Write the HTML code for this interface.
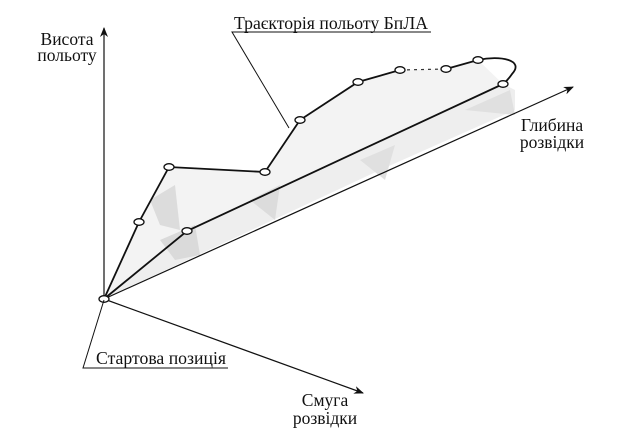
<!DOCTYPE html>
<html><head><meta charset="utf-8"><style>
html,body{margin:0;padding:0;background:#fff;}
svg{display:block;}
text{font-family:"Liberation Serif",serif;font-size:17.5px;fill:#111;}
</style></head><body>
<svg width="630" height="430" viewBox="0 0 630 430" xmlns="http://www.w3.org/2000/svg">
<defs>
<marker id="a" markerWidth="10" markerHeight="8" refX="9" refY="4" orient="auto" markerUnits="userSpaceOnUse">
<path d="M0,0 L10,4 L0,8 L3,4 Z" fill="#111"/>
</marker>
</defs>
<polygon points="104,299 139,222 169,167 265,172 300,120 358,82 400,70 446,69 478,60 503,84 187,231" fill="#f3f3f3"/>
<polygon points="104,299 187,231 503,84 515,90 515,110 380,170 104,299" fill="#eeeeee"/>
<polygon points="150,200 175,185 180,230 160,225" fill="#dcdcdc"/>
<polygon points="160,240 195,225 200,255 175,260" fill="#dadada"/>
<polygon points="250,200 280,185 275,220" fill="#dcdcdc"/>
<polygon points="360,160 395,145 385,180" fill="#e0e0e0"/>
<polygon points="465,110 510,90 515,115" fill="#e0e0e0"/>
<line x1="104" y1="299" x2="104" y2="28" stroke="#111" stroke-width="1.2" marker-end="url(#a)"/>
<line x1="104" y1="299" x2="573" y2="87" stroke="#111" stroke-width="1.2" marker-end="url(#a)"/>
<line x1="104" y1="299" x2="363" y2="393" stroke="#111" stroke-width="1.2" marker-end="url(#a)"/>
<polyline points="104,299 139,222 169,167 265,172 300,120 358,82 400,70" fill="none" stroke="#111" stroke-width="1.8"/>
<line x1="400" y1="70" x2="446" y2="69" stroke="#333" stroke-width="1.2" stroke-dasharray="3,4"/>
<path d="M446,69 L478,60 C500,55 525,60 512,74 Q508,80 503,84" fill="none" stroke="#111" stroke-width="1.8"/>
<polyline points="104,299 187,231 503,84" fill="none" stroke="#111" stroke-width="1.8"/>
<g fill="#fff" stroke="#111" stroke-width="1.3">
<ellipse cx="104" cy="299" rx="5" ry="3.3"/>
<ellipse cx="139" cy="222" rx="5" ry="3.3"/>
<ellipse cx="169" cy="167" rx="5" ry="3.3"/>
<ellipse cx="265" cy="172" rx="5" ry="3.3"/>
<ellipse cx="300" cy="120" rx="5" ry="3.3"/>
<ellipse cx="358" cy="82" rx="5" ry="3.3"/>
<ellipse cx="400" cy="70" rx="5" ry="3.3"/>
<ellipse cx="446" cy="69" rx="5" ry="3.3"/>
<ellipse cx="478" cy="60" rx="5" ry="3.3"/>
<ellipse cx="503" cy="84" rx="5" ry="3.3"/>
<ellipse cx="187" cy="231" rx="5" ry="3.3"/>
</g>
<polyline points="289,128 232,32 431,32" fill="none" stroke="#111" stroke-width="1"/>
<polyline points="104,300 83,368 228,368" fill="none" stroke="#111" stroke-width="1"/>
<text x="234" y="29" textLength="194" lengthAdjust="spacingAndGlyphs">Траєкторія польоту БпЛА</text>
<text x="67" y="45" text-anchor="middle">Висота</text>
<text x="67" y="61" text-anchor="middle">польоту</text>
<text x="552" y="131" text-anchor="middle">Глибина</text>
<text x="552" y="148" text-anchor="middle">розвідки</text>
<text x="96" y="364" textLength="130" lengthAdjust="spacingAndGlyphs">Стартова позиція</text>
<text x="325" y="406" text-anchor="middle">Смуга</text>
<text x="325" y="424" text-anchor="middle">розвідки</text>
</svg>
</body></html>
